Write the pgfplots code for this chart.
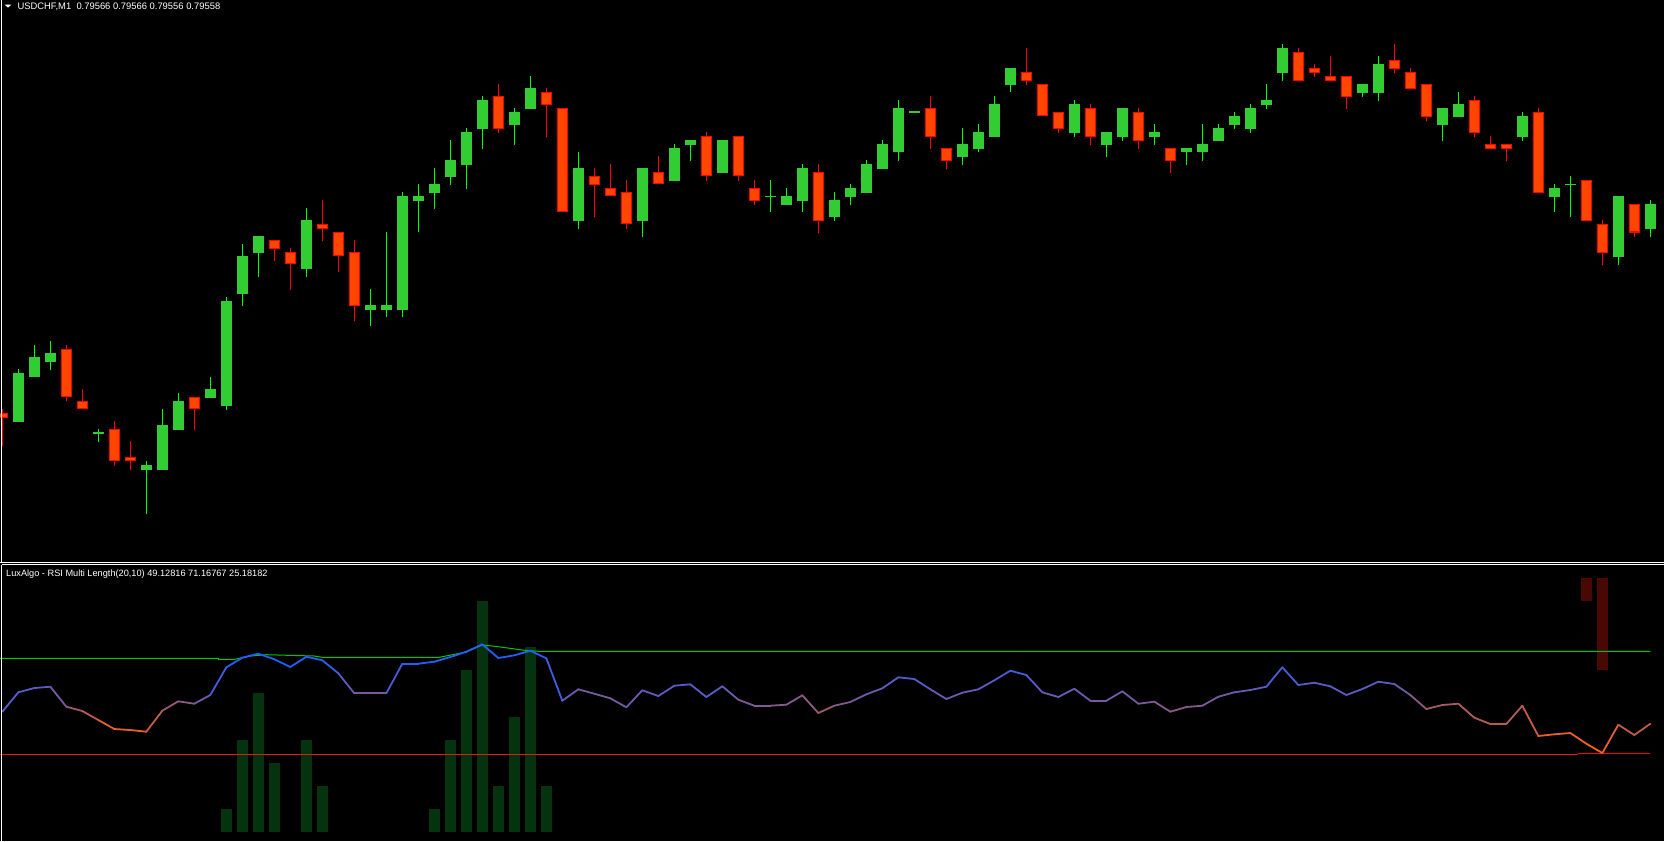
\documentclass[border=0pt]{standalone}
\usepackage{fontspec}
\setmainfont{Liberation Sans}
\usepackage{pgfplots}
\pgfplotsset{compat=1.18}
\usepackage{pgfplotstable}

\definecolor{bull}{RGB}{50,205,50}
\definecolor{bullwick}{RGB}{0,255,0}
\definecolor{bear}{RGB}{255,69,0}
\definecolor{bearedge}{RGB}{255,0,0}
\definecolor{histg}{RGB}{6,51,15}
\definecolor{histr}{RGB}{74,8,5}
\definecolor{upline}{RGB}{0,200,0}
\definecolor{dnline}{RGB}{225,30,20}

\pgfplotsset{colormap={rsi}{rgb255(0cm)=(30,95,255) rgb255(3cm)=(90,90,200) rgb255(5cm)=(130,90,140) rgb255(6.5cm)=(175,90,90) rgb255(8.5cm)=(230,95,45) rgb255(10cm)=(255,100,10)}}

% green (bullish) candles: index, high, body top, body bottom, low (price-panel rows)
\pgfplotstableread{
k hi bt bb lo
1 344.3 348 393.7 393.7
2 322 333.3 352.3 352.3
3 318.3 329.3 337.7 345
6 400.3 403.6 405 412.3
9 430.3 434 438.3 479.3
10 381.7 396.7 438.3 438.3
11 366.7 374.3 401 401
13 352 363 371 371
14 277.3 281 378.7 382.3
15 227.7 239 274 285.3
16 220.3 220.3 235.7 258.3
19 194 205.3 250.7 258.3
23 269.7 284.7 289 304
24 216.7 284.7 289 296.3
25 179.3 183 289 296.3
26 171.7 183 187.3 216.7
27 156.7 171.7 179.7 194.7
28 130.7 149.3 165 172.3
29 119.3 123.3 153.7 176
30 89.7 93.3 120 138.7
32 100.7 104.7 116.3 135
33 71 82 101.3 101.3
36 142 156.7 206 213.3
40 156.7 156.7 206 221
42 134.3 138 168.7 168.7
43 130.7 130.7 135 150.3
45 130.7 130.7 161 161
48 168 182.6 184 198.3
49 175.3 183 191 191
50 153 156.7 187.3 198.3
52 179.3 186.7 202.3 206
53 171.7 175.3 183.7 191
54 149.3 153 179.7 179.7
55 130.7 134.3 157.3 157.3
56 93.3 100.7 142.3 150
57 104 104 105.3 105.3
60 119.3 134.3 146.3 153.7
61 115.7 123.3 138.7 142.3
62 89.7 97 127.7 127.7
63 63.3 63.3 79 86.3
67 93.3 97 123.7 127.7
69 123.3 123.3 135 146.3
70 100.7 100.7 127.7 131.3
72 115.7 123.3 127.7 135
74 138 138 142.3 153.7
75 115.7 134.3 142.3 150
76 115.7 119.3 131.3 131.3
77 104.7 108.3 116.3 120
78 97 100.7 120 123.7
79 78.3 93.3 97.7 101.3
80 41 44.7 67.7 75.3
85 78.3 78.3 86.7 90.3
86 52.3 59.7 86.7 94.3
90 100.7 100.7 116.3 131.3
91 86 97 109 109
95 104.7 108.3 127.7 131.3
97 171.7 175.3 183.7 198.3
98 164.3 171.3 172.7 202.3
101 183 183 239.7 247
103 186.7 190.3 213.3 221
}\greenc

% red (bearish) candles
\pgfplotstableread{
k hi bt bb lo
0 381.7 385.7 389.7 416
4 322 325.7 370.7 374.7
5 363 374.3 382 382
7 393 400.3 430.7 434.7
8 411.7 426.7 430.7 438.3
12 370.7 370.7 382 401
17 224 224 232 243.3
18 231.3 235.3 246.7 270.3
20 186.7 209.3 213.3 224.7
21 216.7 216.7 239.3 254.3
22 224 235.3 285.3 300
31 78.3 89.7 120 123.7
34 82 86 97.7 127.7
35 100.7 100.7 198.3 198.3
37 156.7 164.3 172.3 202.3
38 153 175.3 183.3 183.3
39 168 179.3 209.3 213.3
41 145.7 160.7 172 172
44 123.3 127 164.7 168.7
46 127 127 164.7 168.7
47 168 175.3 187.3 191
51 153 160.7 206 217
58 89.7 100.7 127.7 138.7
59 138 138 150 157.3
64 44.7 67.3 75.3 79
65 78.3 78.3 108.7 108.7
66 104.7 104.7 120 123.7
68 97 100.7 127.7 135
71 100.7 104.7 131.3 138.7
73 138 138 150 161
81 44.7 48.7 75.3 75.3
82 59.7 63.3 67.7 71.7
83 52.3 71 75.3 75.3
84 71 71 90.3 101.3
87 41 56 64 67.7
88 63.3 67.3 82.7 82.7
89 78.3 78.3 109 112.7
92 89.7 93.3 123.7 127.7
93 127 134.3 138.7 138.7
94 134.3 134.3 138.7 150
96 100.7 104.7 179.7 179.7
99 168 168 206 206
100 205.3 209 235.7 247
102 190.3 190.3 217 221
}\redc

% RSI line: index, pixel row, colour meta (0 blue ... 1 orange)
\pgfplotstableread{
k y c
0 711.7 0.3
1 692.3 0.3
2 688 0.3
3 686.7 0.32
4 706.7 0.55
5 711 0.6
6 720 0.8
7 729 0.88
8 730 0.88
9 731.7 0.85
10 710.7 0.6
11 701.3 0.55
12 703.7 0.5
13 695 0.3
14 667.3 0.05
15 657.7 0
16 653.7 0
17 659.3 0
18 667 0
19 656.7 0
20 660.3 0
21 673.3 0.2
22 693.3 0.45
23 693.3 0.45
24 693.3 0.45
25 663.7 0
26 663.7 0
27 661.7 0
28 657 0
29 651.7 0
30 644.3 0
31 658 0
32 655.3 0
33 650.7 0
34 658.3 0
35 700.7 0.35
36 689.3 0.42
37 693.7 0.45
38 698.3 0.45
39 707.3 0.45
40 690.3 0.35
41 696 0.35
42 685.7 0.3
43 684.3 0.28
44 697 0.3
45 686.3 0.32
46 699.7 0.45
47 705.7 0.5
48 705.7 0.5
49 704.7 0.5
50 695.3 0.5
51 713 0.6
52 705.7 0.55
53 702 0.45
54 694.3 0.4
55 688.3 0.35
56 677.3 0.25
57 679 0.25
58 689.3 0.35
59 699 0.4
60 692.7 0.38
61 689.3 0.35
62 680.3 0.3
63 670.7 0.15
64 675 0.2
65 692.3 0.4
66 697 0.4
67 688.7 0.3
68 700.7 0.45
69 700.7 0.45
70 691.3 0.38
71 703.7 0.45
72 701.7 0.45
73 711.7 0.55
74 707 0.5
75 705.7 0.5
76 696.7 0.42
77 692.3 0.4
78 690 0.38
79 686.7 0.3
80 667.3 0.12
81 685 0.3
82 682.7 0.3
83 686.3 0.3
84 695 0.33
85 689 0.3
86 681.7 0.3
87 684 0.35
88 695 0.45
89 709 0.6
90 705 0.62
91 703.7 0.62
92 717.7 0.65
93 724 0.68
94 724 0.68
95 705.7 0.62
96 736 0.85
97 734.3 0.85
98 733 0.85
99 743.7 0.95
100 753 1
101 724.7 0.7
102 735 0.72
103 723.7 0.7
}\rsi

% upper threshold (dynamic) line
\pgfplotstableread{
k y
-0.15 658.3
13.5 658.3
13.5 659.3
14.5 659.3
15.5 656
16.5 654.7
19.5 656
20 657.3
27.3 657.3
29 652
30 645
31 646.7
32.5 650
33.5 651.3
103 651.3
}\upper

% lower threshold line
\pgfplotstableread{
k y
-0.15 754.3
98.5 754.3
}\lowerA
\pgfplotstableread{
k y
98.5 753.3
103 753.3
}\lowerB

% histogram columns: index, top pixel row (green, base 831.7)
\pgfplotstableread{
k top
14 809
15 740
16 692.7
17 763
19 740
20 786
27 809
28 740
29 670
30 601
31 786
32 717
33 647
34 786
}\hgtab

% histogram columns hanging from the top (red, base 578)
\pgfplotstableread{
k bot
99 600.7
100 670
}\hrtab

\begin{document}
\begin{tikzpicture}
\fill[black] (0,0) rectangle (1664pt,-841pt);
\useasboundingbox (0,0) rectangle (1664pt,-841pt);

% ---------- price panel ----------
\begin{axis}[at={(0pt,0pt)}, anchor=north west, scale only axis,
  width=1664pt, height=562pt,
  xmin=-0.1456, xmax=103.8544, ymin=0, ymax=524.53, y dir=reverse,
  hide axis, clip=true]
\addplot[draw=none, mark=none, forget plot, error bars/.cd, y dir=both, y explicit, error mark=none,
  error bar style={draw=bullwick, line width=1pt}]
  table[x=k, y expr={(\thisrow{hi}+\thisrow{lo})/2}, y error expr={(\thisrow{lo}-\thisrow{hi})/2}] {\greenc};
\addplot[draw=none, mark=none, forget plot, error bars/.cd, y dir=both, y explicit, error mark=none,
  error bar style={draw=bearedge, line width=1pt}]
  table[x=k, y expr={(\thisrow{hi}+\thisrow{lo})/2}, y error expr={(\thisrow{lo}-\thisrow{hi})/2}] {\redc};
\addplot[draw=none, mark=none, forget plot, error bars/.cd, y dir=both, y explicit, error mark=none,
  error bar style={draw=bull, line width=11pt}]
  table[x=k, y expr={(\thisrow{bt}+\thisrow{bb})/2}, y error expr={(\thisrow{bb}-\thisrow{bt})/2}] {\greenc};
\addplot[draw=none, mark=none, forget plot, error bars/.cd, y dir=both, y explicit, error mark=none,
  error bar style={draw=bearedge, line width=11pt}]
  table[x=k, y expr={(\thisrow{bt}+\thisrow{bb})/2}, y error expr={(\thisrow{bb}-\thisrow{bt})/2}] {\redc};
\addplot[draw=none, mark=none, forget plot, error bars/.cd, y dir=both, y explicit, error mark=none,
  error bar style={draw=bear, line width=9pt}]
  table[x=k, y expr={(\thisrow{bt}+\thisrow{bb})/2}, y error expr={(\thisrow{bb}-\thisrow{bt})/2-0.95}] {\redc};
\end{axis}

% ---------- indicator panel ----------
\begin{axis}[at={(0pt,-564pt)}, anchor=north west, scale only axis,
  width=1664pt, height=277pt,
  xmin=-0.1456, xmax=103.8544, ymin=564, ymax=841, y dir=reverse,
  hide axis, clip=true, colormap name=rsi, point meta min=0, point meta max=1]
\addplot[draw=none, mark=none, forget plot, error bars/.cd, y dir=both, y explicit, error mark=none,
  error bar style={draw=histg, line width=11pt}]
  table[x=k, y expr={(\thisrow{top}+831.7)/2}, y error expr={(831.7-\thisrow{top})/2}] {\hgtab};
\addplot[draw=none, mark=none, forget plot, error bars/.cd, y dir=both, y explicit, error mark=none,
  error bar style={draw=histr, line width=11pt}]
  table[x=k, y expr={(\thisrow{bot}+578)/2}, y error expr={(\thisrow{bot}-578)/2}] {\hrtab};
\addplot[dnline, line width=1pt, mark=none] table[x=k, y=y] {\lowerA};
\addplot[red, line width=1pt, mark=none] table[x=k, y=y] {\lowerB};
\addplot[upline, line width=1pt, mark=none] table[x=k, y=y] {\upper};
\addplot[mesh, line width=1.8pt, line join=round, line cap=round, point meta=\thisrow{c}] table[x=k, y=y] {\rsi};
\end{axis}

% frames and captions
\draw[white, line width=1.2pt] (1.7pt,0pt) -- (1.7pt,-562.3pt);
\draw[white, line width=1.2pt] (0pt,-562.3pt) -- (1664pt,-562.3pt);
\draw[white, line width=1pt] (1.7pt,-564.6pt) -- (1664pt,-564.6pt);
\draw[white, line width=1.2pt] (1.7pt,-564.6pt) -- (1.7pt,-841pt);
\fill[white] (4.7pt,-4.6pt) -- (11.3pt,-4.6pt) -- (8pt,-7.6pt) -- cycle;
\node[anchor=base west, inner sep=0pt, text=white, font=\fontsize{9.4}{11}\selectfont] at (17.3pt,-9.3pt)
  {USDCHF,M1\ \ 0.79566 0.79566 0.79556 0.79558};
\node[anchor=base west, inner sep=0pt, text=white, font=\fontsize{9.2}{11}\selectfont] at (6pt,-576.3pt)
  {LuxAlgo - RSI Multi Length(20,10) 49.12816 71.16767 25.18182};
\end{tikzpicture}
\end{document}
